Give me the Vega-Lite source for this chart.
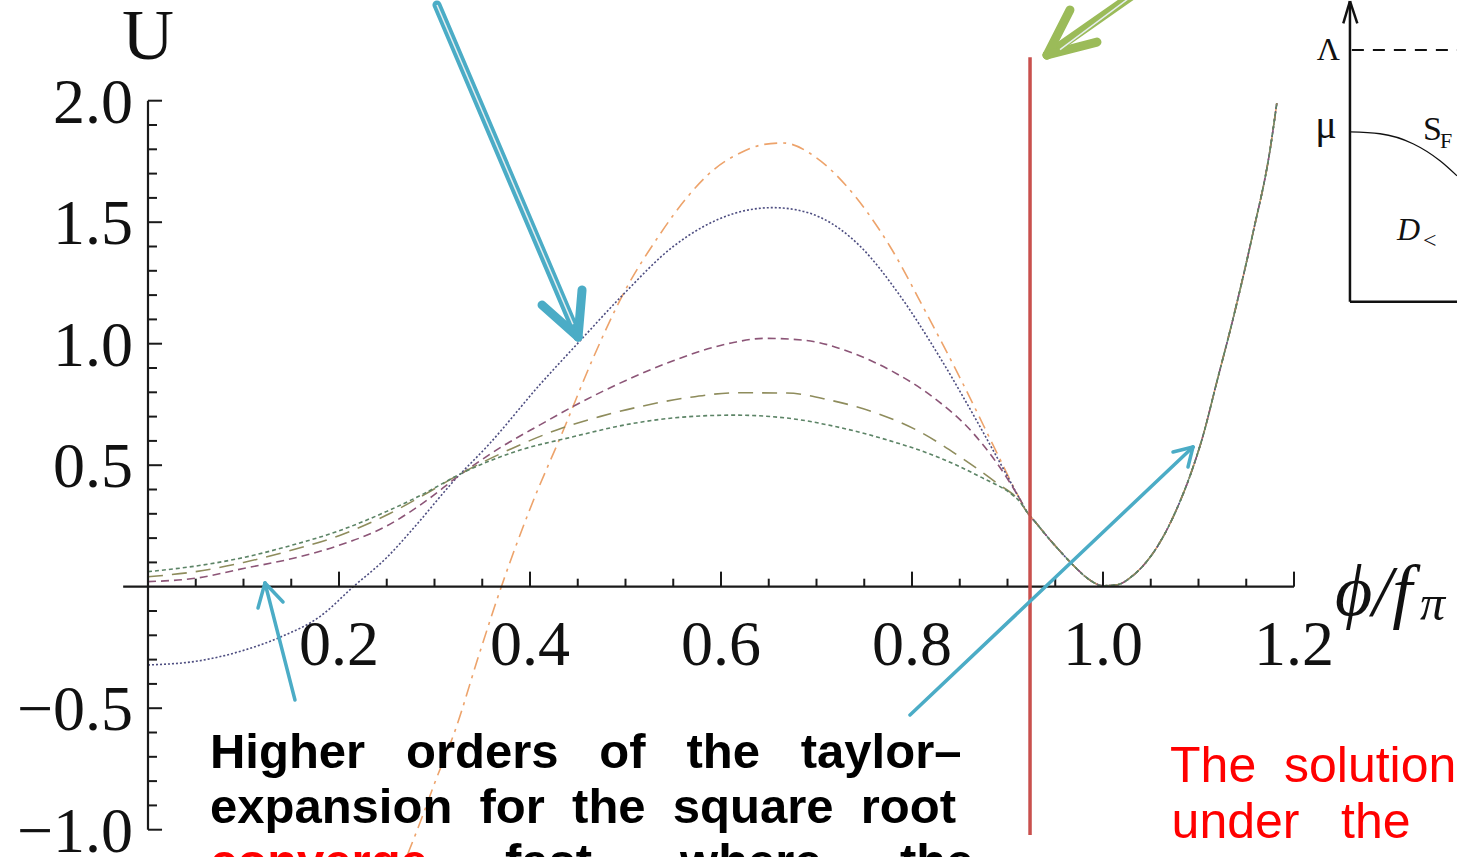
{
  "$schema": "https://vega.github.io/schema/vega-lite/v6.json",
  "width": 1457,
  "height": 857,
  "padding": 0,
  "autosize": {"type": "none"},
  "background": "white",
  "config": {"view": {"stroke": null}},
  "datasets": {
    "curves": [
      {"s":"o","x":0.272,"y":-1.1},{"s":"o","x":0.283,"y":-0.99},{"s":"o","x":0.3,"y":-0.81},{"s":"o","x":0.323,"y":-0.576},{"s":"o","x":0.345,"y":-0.3},{"s":"o","x":0.37,"y":0.0},{"s":"o","x":0.4,"y":0.32},{"s":"o","x":0.435,"y":0.645},{"s":"o","x":0.466,"y":0.94},{"s":"o","x":0.497,"y":1.2},{"s":"o","x":0.536,"y":1.45},{"s":"o","x":0.564,"y":1.6},{"s":"o","x":0.592,"y":1.715},{"s":"o","x":0.62,"y":1.785},{"s":"o","x":0.645,"y":1.82},{"s":"o","x":0.665,"y":1.826},{"s":"o","x":0.7,"y":1.765},{"s":"o","x":0.732,"y":1.646},{"s":"o","x":0.777,"y":1.4},{"s":"o","x":0.815,"y":1.126},{"s":"o","x":0.853,"y":0.838},{"s":"o","x":0.889,"y":0.55},{"s":"o","x":0.913,"y":0.36},
      {"s":"o","x":0.92,"y":0.31},{"s":"o","x":0.93,"y":0.262},{"s":"o","x":0.944,"y":0.195},{"s":"o","x":0.96,"y":0.125},{"s":"o","x":0.973,"y":0.072},{"s":"o","x":0.986,"y":0.028},{"s":"o","x":1.0,"y":0.004},{"s":"o","x":1.015,"y":0.008},{"s":"o","x":1.031,"y":0.045},{"s":"o","x":1.05,"y":0.125},{"s":"o","x":1.067,"y":0.235},{"s":"o","x":1.08,"y":0.345},{"s":"o","x":1.091,"y":0.455},{"s":"o","x":1.105,"y":0.625},{"s":"o","x":1.119,"y":0.84},{"s":"o","x":1.136,"y":1.1},{"s":"o","x":1.157,"y":1.455},{"s":"o","x":1.175,"y":1.8},{"s":"o","x":1.182,"y":1.99},

      {"s":"n","x":0,"y":-0.322},{"s":"n","x":0.05,"y":-0.307},{"s":"n","x":0.1,"y":-0.262},{"s":"n","x":0.14,"y":-0.205},{"s":"n","x":0.18,"y":-0.123},{"s":"n","x":0.215,"y":0.0},{"s":"n","x":0.25,"y":0.12},{"s":"n","x":0.28,"y":0.25},{"s":"n","x":0.319,"y":0.43},{"s":"n","x":0.358,"y":0.59},{"s":"n","x":0.41,"y":0.83},{"s":"n","x":0.452,"y":1.01},{"s":"n","x":0.497,"y":1.2},{"s":"n","x":0.55,"y":1.4},{"s":"n","x":0.613,"y":1.535},{"s":"n","x":0.654,"y":1.56},{"s":"n","x":0.68,"y":1.55},{"s":"n","x":0.704,"y":1.52},{"s":"n","x":0.746,"y":1.4},{"s":"n","x":0.787,"y":1.2},{"s":"n","x":0.829,"y":0.945},{"s":"n","x":0.871,"y":0.66},{"s":"n","x":0.913,"y":0.36},
      {"s":"n","x":0.92,"y":0.31},{"s":"n","x":0.93,"y":0.262},{"s":"n","x":0.944,"y":0.195},{"s":"n","x":0.96,"y":0.125},{"s":"n","x":0.973,"y":0.072},{"s":"n","x":0.986,"y":0.028},{"s":"n","x":1.0,"y":0.004},{"s":"n","x":1.015,"y":0.008},{"s":"n","x":1.031,"y":0.045},{"s":"n","x":1.05,"y":0.125},{"s":"n","x":1.067,"y":0.235},{"s":"n","x":1.08,"y":0.345},{"s":"n","x":1.091,"y":0.455},{"s":"n","x":1.105,"y":0.625},{"s":"n","x":1.119,"y":0.84},{"s":"n","x":1.136,"y":1.1},{"s":"n","x":1.157,"y":1.455},{"s":"n","x":1.175,"y":1.8},{"s":"n","x":1.182,"y":1.99},

      {"s":"p","x":0,"y":0.021},{"s":"p","x":0.05,"y":0.035},{"s":"p","x":0.1,"y":0.075},{"s":"p","x":0.15,"y":0.115},{"s":"p","x":0.2,"y":0.17},{"s":"p","x":0.25,"y":0.25},{"s":"p","x":0.29,"y":0.35},{"s":"p","x":0.325,"y":0.455},{"s":"p","x":0.37,"y":0.575},{"s":"p","x":0.41,"y":0.665},{"s":"p","x":0.452,"y":0.756},{"s":"p","x":0.501,"y":0.85},{"s":"p","x":0.55,"y":0.93},{"s":"p","x":0.613,"y":1.005},{"s":"p","x":0.645,"y":1.022},{"s":"p","x":0.686,"y":1.015},{"s":"p","x":0.738,"y":0.961},{"s":"p","x":0.78,"y":0.885},{"s":"p","x":0.822,"y":0.78},{"s":"p","x":0.864,"y":0.632},{"s":"p","x":0.899,"y":0.45},{"s":"p","x":0.913,"y":0.36},
      {"s":"p","x":0.92,"y":0.31},{"s":"p","x":0.93,"y":0.262},{"s":"p","x":0.944,"y":0.195},{"s":"p","x":0.96,"y":0.125},{"s":"p","x":0.973,"y":0.072},{"s":"p","x":0.986,"y":0.028},{"s":"p","x":1.0,"y":0.004},{"s":"p","x":1.015,"y":0.008},{"s":"p","x":1.031,"y":0.045},{"s":"p","x":1.05,"y":0.125},{"s":"p","x":1.067,"y":0.235},{"s":"p","x":1.08,"y":0.345},{"s":"p","x":1.091,"y":0.455},{"s":"p","x":1.105,"y":0.625},{"s":"p","x":1.119,"y":0.84},{"s":"p","x":1.136,"y":1.1},{"s":"p","x":1.157,"y":1.455},{"s":"p","x":1.175,"y":1.8},{"s":"p","x":1.182,"y":1.99},

      {"s":"l","x":0,"y":0.041},{"s":"l","x":0.05,"y":0.062},{"s":"l","x":0.1,"y":0.1},{"s":"l","x":0.15,"y":0.15},{"s":"l","x":0.2,"y":0.21},{"s":"l","x":0.25,"y":0.295},{"s":"l","x":0.29,"y":0.38},{"s":"l","x":0.325,"y":0.46},{"s":"l","x":0.38,"y":0.567},{"s":"l","x":0.428,"y":0.645},{"s":"l","x":0.473,"y":0.7},{"s":"l","x":0.515,"y":0.741},{"s":"l","x":0.565,"y":0.778},{"s":"l","x":0.617,"y":0.798},{"s":"l","x":0.669,"y":0.797},{"s":"l","x":0.714,"y":0.768},{"s":"l","x":0.763,"y":0.714},{"s":"l","x":0.808,"y":0.638},{"s":"l","x":0.85,"y":0.535},{"s":"l","x":0.889,"y":0.426},{"s":"l","x":0.913,"y":0.35},
      {"s":"l","x":0.92,"y":0.31},{"s":"l","x":0.93,"y":0.262},{"s":"l","x":0.944,"y":0.195},{"s":"l","x":0.96,"y":0.125},{"s":"l","x":0.973,"y":0.072},{"s":"l","x":0.986,"y":0.028},{"s":"l","x":1.0,"y":0.004},{"s":"l","x":1.015,"y":0.008},{"s":"l","x":1.031,"y":0.045},{"s":"l","x":1.05,"y":0.125},{"s":"l","x":1.067,"y":0.235},{"s":"l","x":1.08,"y":0.345},{"s":"l","x":1.091,"y":0.455},{"s":"l","x":1.105,"y":0.625},{"s":"l","x":1.119,"y":0.84},{"s":"l","x":1.136,"y":1.1},{"s":"l","x":1.157,"y":1.455},{"s":"l","x":1.175,"y":1.8},{"s":"l","x":1.182,"y":1.99},

      {"s":"g","x":0,"y":0.062},{"s":"g","x":0.05,"y":0.085},{"s":"g","x":0.1,"y":0.12},{"s":"g","x":0.15,"y":0.17},{"s":"g","x":0.2,"y":0.23},{"s":"g","x":0.25,"y":0.31},{"s":"g","x":0.29,"y":0.385},{"s":"g","x":0.325,"y":0.46},{"s":"g","x":0.38,"y":0.55},{"s":"g","x":0.445,"y":0.617},{"s":"g","x":0.508,"y":0.672},{"s":"g","x":0.56,"y":0.698},{"s":"g","x":0.613,"y":0.706},{"s":"g","x":0.669,"y":0.694},{"s":"g","x":0.721,"y":0.658},{"s":"g","x":0.774,"y":0.604},{"s":"g","x":0.826,"y":0.535},{"s":"g","x":0.871,"y":0.453},{"s":"g","x":0.906,"y":0.375},{"s":"g","x":0.913,"y":0.35},
      {"s":"g","x":0.92,"y":0.31},{"s":"g","x":0.93,"y":0.262},{"s":"g","x":0.944,"y":0.195},{"s":"g","x":0.96,"y":0.125},{"s":"g","x":0.973,"y":0.072},{"s":"g","x":0.986,"y":0.028},{"s":"g","x":1.0,"y":0.004},{"s":"g","x":1.015,"y":0.008},{"s":"g","x":1.031,"y":0.045},{"s":"g","x":1.05,"y":0.125},{"s":"g","x":1.067,"y":0.235},{"s":"g","x":1.08,"y":0.345},{"s":"g","x":1.091,"y":0.455},{"s":"g","x":1.105,"y":0.625},{"s":"g","x":1.119,"y":0.84},{"s":"g","x":1.136,"y":1.1},{"s":"g","x":1.157,"y":1.455},{"s":"g","x":1.175,"y":1.8},{"s":"g","x":1.182,"y":1.99}
    ],
    "axes": [
      {"x":-0.026,"y":0,"x2":1.2,"y2":0},
      {"x":0,"y":-1.0,"x2":0,"y2":2.0}
    ],
    "ticks": [
      {"x":0.05,"y":0,"x2":0.05,"y2":0.033},{"x":0.1,"y":0,"x2":0.1,"y2":0.033},{"x":0.15,"y":0,"x2":0.15,"y2":0.033},{"x":0.2,"y":0,"x2":0.2,"y2":0.062},
      {"x":0.25,"y":0,"x2":0.25,"y2":0.033},{"x":0.3,"y":0,"x2":0.3,"y2":0.033},{"x":0.35,"y":0,"x2":0.35,"y2":0.033},{"x":0.4,"y":0,"x2":0.4,"y2":0.062},
      {"x":0.45,"y":0,"x2":0.45,"y2":0.033},{"x":0.5,"y":0,"x2":0.5,"y2":0.033},{"x":0.55,"y":0,"x2":0.55,"y2":0.033},{"x":0.6,"y":0,"x2":0.6,"y2":0.062},
      {"x":0.65,"y":0,"x2":0.65,"y2":0.033},{"x":0.7,"y":0,"x2":0.7,"y2":0.033},{"x":0.75,"y":0,"x2":0.75,"y2":0.033},{"x":0.8,"y":0,"x2":0.8,"y2":0.062},
      {"x":0.85,"y":0,"x2":0.85,"y2":0.033},{"x":0.9,"y":0,"x2":0.9,"y2":0.033},{"x":0.95,"y":0,"x2":0.95,"y2":0.033},{"x":1.0,"y":0,"x2":1.0,"y2":0.062},
      {"x":1.05,"y":0,"x2":1.05,"y2":0.033},{"x":1.1,"y":0,"x2":1.1,"y2":0.033},{"x":1.15,"y":0,"x2":1.15,"y2":0.033},{"x":1.2,"y":0,"x2":1.2,"y2":0.062},
      {"x":0,"y":-1.0,"x2":0.0147,"y2":-1.0},{"x":0,"y":-0.9,"x2":0.0094,"y2":-0.9},{"x":0,"y":-0.8,"x2":0.0094,"y2":-0.8},{"x":0,"y":-0.7,"x2":0.0094,"y2":-0.7},{"x":0,"y":-0.6,"x2":0.0094,"y2":-0.6},
      {"x":0,"y":-0.5,"x2":0.0147,"y2":-0.5},{"x":0,"y":-0.4,"x2":0.0094,"y2":-0.4},{"x":0,"y":-0.3,"x2":0.0094,"y2":-0.3},{"x":0,"y":-0.2,"x2":0.0094,"y2":-0.2},{"x":0,"y":-0.1,"x2":0.0094,"y2":-0.1},
      {"x":0,"y":0.1,"x2":0.0094,"y2":0.1},{"x":0,"y":0.2,"x2":0.0094,"y2":0.2},{"x":0,"y":0.3,"x2":0.0094,"y2":0.3},{"x":0,"y":0.4,"x2":0.0094,"y2":0.4},
      {"x":0,"y":0.5,"x2":0.0147,"y2":0.5},{"x":0,"y":0.6,"x2":0.0094,"y2":0.6},{"x":0,"y":0.7,"x2":0.0094,"y2":0.7},{"x":0,"y":0.8,"x2":0.0094,"y2":0.8},{"x":0,"y":0.9,"x2":0.0094,"y2":0.9},
      {"x":0,"y":1.0,"x2":0.0147,"y2":1.0},{"x":0,"y":1.1,"x2":0.0094,"y2":1.1},{"x":0,"y":1.2,"x2":0.0094,"y2":1.2},{"x":0,"y":1.3,"x2":0.0094,"y2":1.3},{"x":0,"y":1.4,"x2":0.0094,"y2":1.4},
      {"x":0,"y":1.5,"x2":0.0147,"y2":1.5},{"x":0,"y":1.6,"x2":0.0094,"y2":1.6},{"x":0,"y":1.7,"x2":0.0094,"y2":1.7},{"x":0,"y":1.8,"x2":0.0094,"y2":1.8},{"x":0,"y":1.9,"x2":0.0094,"y2":1.9},
      {"x":0,"y":2.0,"x2":0.0147,"y2":2.0}
    ],
    "xlabels": [
      {"x":0.2,"y":-0.322,"t":"0.2"},{"x":0.4,"y":-0.322,"t":"0.4"},{"x":0.6,"y":-0.322,"t":"0.6"},{"x":0.8,"y":-0.322,"t":"0.8"},{"x":1.0,"y":-0.322,"t":"1.0"},{"x":1.2,"y":-0.322,"t":"1.2"}
    ],
    "ylabels": [
      {"x":-0.0157,"y":1.91,"t":"2.0"},{"x":-0.0157,"y":1.41,"t":"1.5"},{"x":-0.0157,"y":0.91,"t":"1.0"},{"x":-0.0157,"y":0.41,"t":"0.5"},{"x":-0.0157,"y":-0.59,"t":"\u22120.5"},{"x":-0.0157,"y":-1.09,"t":"\u22121.0"}
    ],
    "thickBlue": [
      {"x":0.3026,"y":2.3938,"x2":0.4503,"y2":1.0276},
      {"x":0.4503,"y":1.0276,"x2":0.4126,"y2":1.1593},
      {"x":0.4503,"y":1.0276,"x2":0.4545,"y2":1.221}
    ],
    "thickGreen": [
      {"x":1.0387,"y":2.4556,"x2":0.9414,"y2":2.188},
      {"x":0.9414,"y":2.188,"x2":0.9654,"y2":2.3732},
      {"x":0.9414,"y":2.188,"x2":0.9937,"y2":2.2412}
    ],
    "thickInner": [
      {"x":0.3026,"y":2.3938,"x2":0.445,"y2":1.08},
      {"x":1.0387,"y":2.4556,"x2":0.955,"y2":2.21}
    ],
    "thin": [
      {"x":0.1539,"y":-0.4663,"x2":0.1225,"y2":0.0152},
      {"x":0.1225,"y":0.0152,"x2":0.1152,"y2":-0.0877},
      {"x":0.1225,"y":0.0152,"x2":0.1414,"y2":-0.063},
      {"x":0.7979,"y":-0.528,"x2":1.0942,"y2":0.5749},
      {"x":1.0942,"y":0.5749,"x2":1.0733,"y2":0.5543},
      {"x":1.0942,"y":0.5749,"x2":1.089,"y2":0.4926}
    ],
    "redline": [
      {"x":0.9236,"y":-1.0218,"x2":0.9236,"y2":2.179}
    ],
    "inset": [
      {"x":1.2586,"y":1.1728,"x2":1.2586,"y2":2.41},
      {"x":1.2586,"y":1.1728,"x2":1.372,"y2":1.1728},
      {"x":1.2586,"y":2.41,"x2":1.2516,"y2":2.3185},
      {"x":1.2586,"y":2.41,"x2":1.2663,"y2":2.3185}
    ],
    "insetDash": [
      {"x":1.2606,"y":2.2086,"x2":1.372,"y2":2.2086}
    ],
    "insetCurve": [
      {"x":1.2586,"y":1.872},{"x":1.2901,"y":1.864},{"x":1.3246,"y":1.823},{"x":1.3529,"y":1.753},{"x":1.3707,"y":1.691}
    ],
    "sansBlack": [
      {"x":0.0649,"y":-0.746,"t":"Higher\u00a0\u00a0\u00a0orders\u00a0\u00a0\u00a0of\u00a0\u00a0\u00a0the\u00a0\u00a0\u00a0taylor\u2013"},
      {"x":0.0649,"y":-0.9737,"t":"expansion\u00a0\u00a0for\u00a0\u00a0the\u00a0\u00a0square\u00a0\u00a0root"},
      {"x":0.3738,"y":-1.199,"t":"fast"},
      {"x":0.5571,"y":-1.199,"t":"where"},
      {"x":0.7874,"y":-1.199,"t":"the"}
    ],
    "sansRedBold": [
      {"x":0.0649,"y":-1.199,"t":"converge"}
    ],
    "sansRed": [
      {"x":1.0702,"y":-0.804,"t":"The\u00a0\u00a0solution"},
      {"x":1.0718,"y":-1.035,"t":"under\u00a0\u00a0\u00a0the"}
    ]
  },
  "encoding": {
    "x": {"field": "x", "type": "quantitative", "axis": null, "scale": {"domain": [-0.15497, 1.37068], "nice": false, "zero": false}},
    "y": {"field": "y", "type": "quantitative", "axis": null, "scale": {"domain": [-1.1123, 2.4144], "nice": false, "zero": false}}
  },
  "layer": [
    {
      "data": {"name": "curves"},
      "mark": {"type": "line", "strokeWidth": 1.6, "interpolate": "monotone"},
      "encoding": {
        "color": {"field": "s", "type": "nominal", "legend": null, "scale": {"domain": ["o","n","p","l","g"], "range": ["#eda36b","#4d4d80","#8c5577","#8e8c5c","#5c8466"]}},
        "strokeDash": {"field": "s", "type": "nominal", "legend": null, "scale": {"domain": ["o","n","p","l","g"], "range": [[13,6,3,6],[2,2],[8,5],[15,9],[4,3]]}},
        "order": {"field": "x", "type": "quantitative"}
      }
    },
    {
      "data": {"name": "axes"},
      "mark": {"type": "rule", "color": "#1a1a1a", "strokeWidth": 2.2},
      "encoding": {"x2": {"field": "x2"}, "y2": {"field": "y2"}}
    },
    {
      "data": {"name": "ticks"},
      "mark": {"type": "rule", "color": "#1a1a1a", "strokeWidth": 2},
      "encoding": {"x2": {"field": "x2"}, "y2": {"field": "y2"}}
    },
    {
      "data": {"name": "xlabels"},
      "mark": {"type": "text", "font": "Liberation Serif", "fontSize": 64, "align": "center", "baseline": "alphabetic", "color": "#111"},
      "encoding": {"text": {"field": "t"}}
    },
    {
      "data": {"name": "ylabels"},
      "mark": {"type": "text", "font": "Liberation Serif", "fontSize": 64, "align": "right", "baseline": "alphabetic", "color": "#111"},
      "encoding": {"text": {"field": "t"}}
    },
    {
      "data": {"values": [{"x": 0.0, "y": 2.1716, "t": "U"}]},
      "mark": {"type": "text", "font": "Liberation Serif", "fontSize": 72, "align": "center", "baseline": "alphabetic", "color": "#111"},
      "encoding": {"text": {"field": "t"}}
    },
    {
      "data": {"values": [{"x": 1.243, "y": -0.116, "t": "\u03d5/f"}]},
      "mark": {"type": "text", "font": "Liberation Serif", "fontStyle": "italic", "fontSize": 72, "align": "left", "baseline": "alphabetic", "color": "#111"},
      "encoding": {"text": {"field": "t"}}
    },
    {
      "data": {"values": [{"x": 1.332, "y": -0.137, "t": "\u03c0"}]},
      "mark": {"type": "text", "font": "Liberation Serif", "fontStyle": "italic", "fontSize": 50, "align": "left", "baseline": "alphabetic", "color": "#111"},
      "encoding": {"text": {"field": "t"}}
    },
    {
      "data": {"name": "redline"},
      "mark": {"type": "rule", "color": "#c9504d", "strokeWidth": 3.5},
      "encoding": {"x2": {"field": "x2"}, "y2": {"field": "y2"}}
    },
    {
      "data": {"name": "thickBlue"},
      "mark": {"type": "rule", "strokeWidth": 9, "strokeCap": "round", "color": "#4bacc6"},
      "encoding": {"x2": {"field": "x2"}, "y2": {"field": "y2"}}
    },
    {
      "data": {"name": "thickGreen"},
      "mark": {"type": "rule", "strokeWidth": 9, "strokeCap": "round", "color": "#9bbb59"},
      "encoding": {"x2": {"field": "x2"}, "y2": {"field": "y2"}}
    },
    {
      "data": {"name": "thickInner"},
      "mark": {"type": "rule", "strokeWidth": 1.5, "color": "#e6eef0"},
      "encoding": {"x2": {"field": "x2"}, "y2": {"field": "y2"}}
    },
    {
      "data": {"name": "thin"},
      "mark": {"type": "rule", "strokeWidth": 3.5, "strokeCap": "round", "color": "#4bacc6"},
      "encoding": {"x2": {"field": "x2"}, "y2": {"field": "y2"}}
    },
    {
      "data": {"name": "inset"},
      "mark": {"type": "rule", "strokeWidth": 2.5, "color": "#111"},
      "encoding": {"x2": {"field": "x2"}, "y2": {"field": "y2"}}
    },
    {
      "data": {"name": "insetDash"},
      "mark": {"type": "rule", "strokeWidth": 2.2, "color": "#111", "strokeDash": [12, 9]},
      "encoding": {"x2": {"field": "x2"}, "y2": {"field": "y2"}}
    },
    {
      "data": {"name": "insetCurve"},
      "mark": {"type": "line", "strokeWidth": 1.3, "color": "#111", "interpolate": "monotone"},
      "encoding": {}
    },
    {
      "data": {"values": [{"x": 1.236, "y": 2.167, "t": "\u039b"}]},
      "mark": {"type": "text", "font": "Liberation Serif", "fontSize": 32, "align": "center", "baseline": "alphabetic", "color": "#111"},
      "encoding": {"text": {"field": "t"}}
    },
    {
      "data": {"values": [{"x": 1.2335, "y": 1.846, "t": "\u03bc"}]},
      "mark": {"type": "text", "font": "Liberation Serif", "fontSize": 40, "align": "center", "baseline": "alphabetic", "color": "#111"},
      "encoding": {"text": {"field": "t"}}
    },
    {
      "data": {"values": [{"x": 1.335, "y": 1.838, "t": "S"}]},
      "mark": {"type": "text", "font": "Liberation Serif", "fontSize": 34, "align": "left", "baseline": "alphabetic", "color": "#111"},
      "encoding": {"text": {"field": "t"}}
    },
    {
      "data": {"values": [{"x": 1.3529, "y": 1.805, "t": "F"}]},
      "mark": {"type": "text", "font": "Liberation Serif", "fontSize": 22, "align": "left", "baseline": "alphabetic", "color": "#111"},
      "encoding": {"text": {"field": "t"}}
    },
    {
      "data": {"values": [{"x": 1.3079, "y": 1.4268, "t": "D"}]},
      "mark": {"type": "text", "font": "Liberation Serif", "fontStyle": "italic", "fontSize": 32, "align": "left", "baseline": "alphabetic", "color": "#111"},
      "encoding": {"text": {"field": "t"}}
    },
    {
      "data": {"values": [{"x": 1.335, "y": 1.394, "t": "<"}]},
      "mark": {"type": "text", "font": "Liberation Serif", "fontSize": 24, "align": "left", "baseline": "alphabetic", "color": "#111"},
      "encoding": {"text": {"field": "t"}}
    },
    {
      "data": {"name": "sansBlack"},
      "mark": {"type": "text", "font": "Liberation Sans", "fontWeight": "bold", "fontSize": 49, "align": "left", "baseline": "alphabetic", "color": "#000"},
      "encoding": {"text": {"field": "t"}}
    },
    {
      "data": {"name": "sansRedBold"},
      "mark": {"type": "text", "font": "Liberation Sans", "fontWeight": "bold", "fontSize": 49, "align": "left", "baseline": "alphabetic", "color": "#ff0000"},
      "encoding": {"text": {"field": "t"}}
    },
    {
      "data": {"name": "sansRed"},
      "mark": {"type": "text", "font": "Liberation Sans", "fontSize": 50, "align": "left", "baseline": "alphabetic", "color": "#ff0000"},
      "encoding": {"text": {"field": "t"}}
    }
  ]
}
